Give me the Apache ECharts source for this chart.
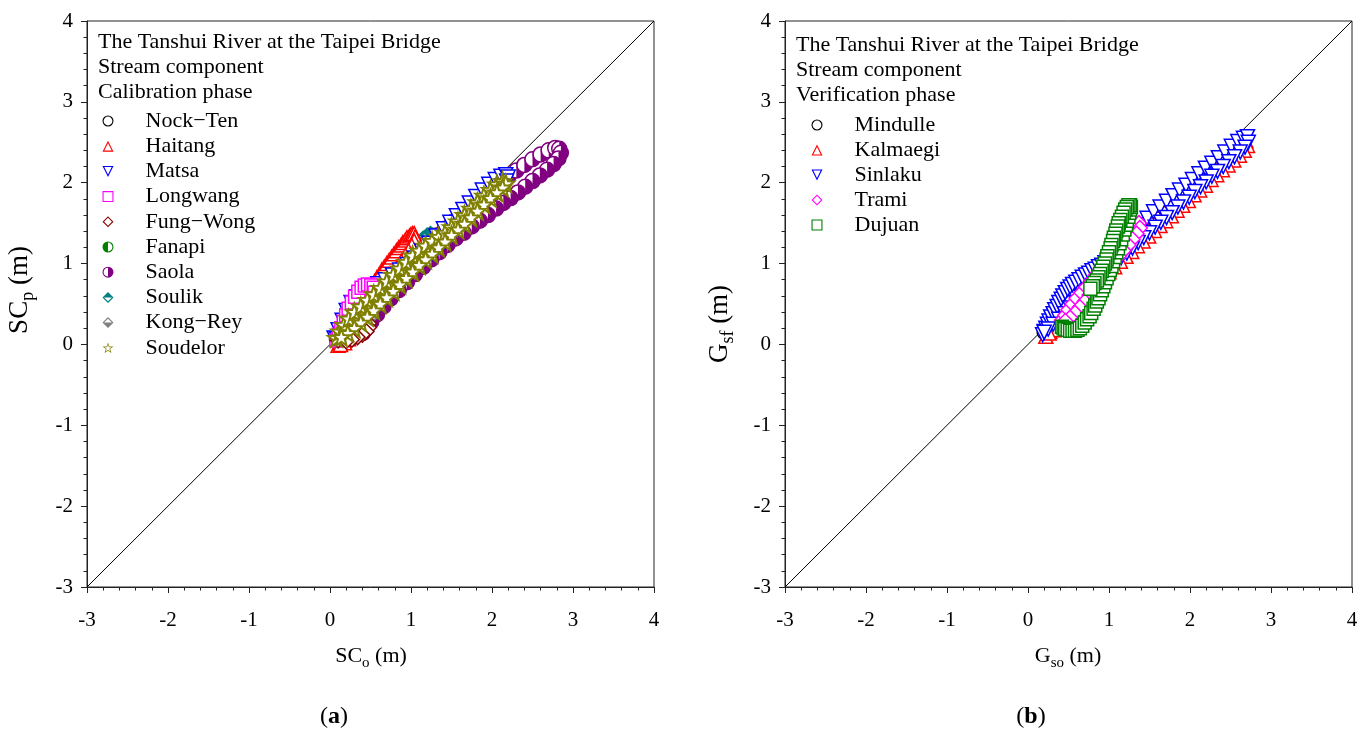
<!DOCTYPE html>
<html><head><meta charset="utf-8">
<script src="https://cdn.jsdelivr.net/npm/echarts@6/dist/echarts.min.js"></script>
<style>html,body{margin:0;padding:0;background:#fff}#c{width:1372px;height:731px}</style>
</head><body><div id="c"></div>
<script>
// ---------- tick labels / axis range ----------
const axisTicks = [-3, -2, -1, 0, 1, 2, 3, 4];

// ---------- (a) Calibration phase ----------
const nockTen = [[0.08,0.06],[0.12,0.05],[0.16,0.06],[0.2,0.06],[0.24,0.08],[0.28,0.1],[0.3,0.13],[0.27,0.12],[0.22,0.1],[0.17,0.08],[0.12,0.06]];
const haitang = [[0.1,-0.01],[0.12,0.02],[0.14,0.05],[0.16,0.09],[0.18,0.12],[0.2,0.16],[0.22,0.2],[0.25,0.25],[0.27,0.29],[0.3,0.34],[0.32,0.38],[0.35,0.43],[0.37,0.47],[0.4,0.52],[0.42,0.56],[0.45,0.61],[0.47,0.65],[0.5,0.7],[0.52,0.74],[0.55,0.78],[0.58,0.83],[0.61,0.87],[0.64,0.92],[0.67,0.96],[0.7,1.0],[0.73,1.04],[0.76,1.08],[0.79,1.12],[0.82,1.16],[0.85,1.2],[0.88,1.23],[0.9,1.26],[0.93,1.29],[0.95,1.32],[0.98,1.34],[1.0,1.36],[1.02,1.37],[1.04,1.37],[1.05,1.33],[1.04,1.28],[1.01,1.22],[0.97,1.16],[0.93,1.1],[0.88,1.03],[0.83,0.96],[0.78,0.89],[0.73,0.82],[0.68,0.75],[0.63,0.68],[0.58,0.6],[0.53,0.52],[0.48,0.44],[0.43,0.36],[0.38,0.28],[0.33,0.2],[0.28,0.13],[0.23,0.07],[0.18,0.02],[0.13,0.0]];
const matsa = [[0.05,0.08],[0.1,0.18],[0.15,0.3],[0.2,0.42],[0.26,0.52],[0.33,0.59],[0.41,0.65],[0.5,0.7],[0.59,0.75],[0.68,0.8],[0.77,0.86],[0.86,0.92],[0.95,0.99],[1.04,1.07],[1.13,1.16],[1.22,1.25],[1.31,1.34],[1.4,1.43],[1.48,1.51],[1.56,1.59],[1.64,1.67],[1.72,1.75],[1.8,1.83],[1.88,1.91],[1.96,1.98],[2.04,2.04],[2.11,2.08],[2.17,2.1],[2.2,2.07],[2.18,2.02],[2.12,1.96],[2.05,1.9],[1.98,1.83],[1.9,1.75],[1.82,1.67],[1.74,1.59],[1.66,1.51],[1.58,1.43],[1.5,1.35],[1.42,1.27],[1.34,1.2],[1.26,1.13],[1.18,1.06],[1.1,0.99],[1.02,0.91],[0.94,0.83],[0.86,0.75],[0.78,0.67],[0.7,0.59],[0.62,0.51],[0.54,0.43],[0.46,0.35],[0.38,0.28],[0.3,0.21],[0.22,0.15],[0.15,0.1],[0.08,0.07]];
const longwang = [[0.08,0.05],[0.11,0.12],[0.14,0.2],[0.17,0.28],[0.2,0.36],[0.23,0.44],[0.27,0.52],[0.31,0.59],[0.35,0.65],[0.39,0.7],[0.43,0.73],[0.47,0.74],[0.51,0.73],[0.54,0.7],[0.55,0.64],[0.53,0.57],[0.5,0.5],[0.46,0.43],[0.42,0.36],[0.37,0.29],[0.32,0.22],[0.26,0.16],[0.2,0.11],[0.14,0.07]];
const fungWong = [[0.1,0.05],[0.16,0.08],[0.22,0.12],[0.28,0.16],[0.34,0.2],[0.4,0.24],[0.45,0.27],[0.48,0.26],[0.48,0.21],[0.45,0.16],[0.4,0.12],[0.34,0.09],[0.27,0.06],[0.2,0.04]];
const fanapi = [[0.15,0.08],[0.2,0.1],[0.25,0.12],[0.3,0.14],[0.34,0.16],[0.37,0.18],[0.39,0.19],[0.36,0.15],[0.31,0.12]];
const saola = [[0.4,0.14],[0.42,0.2],[0.45,0.28],[0.49,0.37],[0.53,0.46],[0.58,0.56],[0.63,0.66],[0.68,0.75],[0.74,0.83],[0.81,0.9],[0.89,0.97],[0.97,1.04],[1.06,1.11],[1.15,1.19],[1.24,1.27],[1.33,1.35],[1.42,1.43],[1.51,1.51],[1.6,1.59],[1.7,1.67],[1.8,1.75],[1.9,1.83],[2.0,1.91],[2.1,1.99],[2.2,2.07],[2.3,2.15],[2.4,2.22],[2.5,2.29],[2.6,2.35],[2.7,2.4],[2.78,2.43],[2.83,2.42],[2.85,2.37],[2.82,2.3],[2.76,2.23],[2.68,2.16],[2.59,2.09],[2.5,2.02],[2.41,1.95],[2.32,1.88],[2.23,1.81],[2.14,1.75],[2.05,1.68],[1.95,1.6],[1.85,1.53],[1.75,1.46],[1.65,1.38],[1.55,1.31],[1.45,1.23],[1.35,1.14],[1.25,1.05],[1.15,0.96],[1.05,0.87],[0.95,0.77],[0.85,0.67],[0.75,0.57],[0.66,0.47],[0.58,0.37],[0.51,0.28],[0.45,0.2],[0.41,0.15]];
const soulik = [[0.22,0.2],[0.27,0.27],[0.33,0.35],[0.39,0.43],[0.46,0.52],[0.53,0.61],[0.6,0.7],[0.67,0.78],[0.74,0.86],[0.81,0.94],[0.88,1.02],[0.95,1.1],[1.02,1.17],[1.09,1.24],[1.15,1.3],[1.2,1.34],[1.24,1.36],[1.27,1.34],[1.27,1.29],[1.24,1.23],[1.2,1.17],[1.15,1.11],[1.1,1.05],[1.04,0.99],[0.98,0.93],[0.92,0.87],[0.86,0.8],[0.8,0.74],[0.74,0.67],[0.68,0.6],[0.62,0.54],[0.56,0.48],[0.5,0.42],[0.44,0.36],[0.38,0.3],[0.32,0.25],[0.27,0.22]];
const kongRey = [[0.3,0.24],[0.34,0.28],[0.38,0.33],[0.42,0.38],[0.46,0.42],[0.49,0.44],[0.51,0.42],[0.5,0.37],[0.47,0.32],[0.43,0.28],[0.39,0.25],[0.35,0.23]];
const soudelor = [[0.08,0.08],[0.12,0.16],[0.17,0.24],[0.23,0.32],[0.3,0.4],[0.38,0.47],[0.46,0.55],[0.54,0.62],[0.62,0.7],[0.7,0.78],[0.78,0.86],[0.86,0.94],[0.94,1.02],[1.02,1.1],[1.1,1.16],[1.18,1.22],[1.26,1.28],[1.34,1.33],[1.42,1.38],[1.5,1.45],[1.58,1.52],[1.66,1.6],[1.74,1.68],[1.82,1.76],[1.9,1.84],[1.98,1.91],[2.06,1.98],[2.13,2.02],[2.17,1.99],[2.13,1.94],[2.06,1.88],[1.98,1.81],[1.9,1.73],[1.82,1.65],[1.74,1.57],[1.66,1.49],[1.58,1.42],[1.5,1.35],[1.42,1.27],[1.34,1.2],[1.26,1.12],[1.18,1.05],[1.1,0.98],[1.02,0.9],[0.94,0.82],[0.86,0.74],[0.78,0.66],[0.7,0.58],[0.62,0.5],[0.54,0.42],[0.46,0.34],[0.38,0.27],[0.3,0.2],[0.22,0.14],[0.14,0.09]];

// ---------- (b) Verification phase ----------
const mindulle = [[0.2,0.15],[0.25,0.2],[0.3,0.25],[0.35,0.3],[0.4,0.33],[0.43,0.3],[0.4,0.25],[0.35,0.21],[0.28,0.17]];
const kalmaegi = [[0.22,0.1],[0.27,0.16],[0.33,0.22],[0.4,0.27],[0.47,0.33],[0.53,0.42],[0.59,0.52],[0.66,0.62],[0.73,0.72],[0.8,0.81],[0.88,0.9],[0.96,0.99],[1.04,1.08],[1.12,1.17],[1.2,1.26],[1.28,1.35],[1.36,1.43],[1.44,1.51],[1.52,1.58],[1.6,1.65],[1.68,1.72],[1.76,1.79],[1.84,1.86],[1.92,1.93],[2.0,1.99],[2.08,2.06],[2.16,2.13],[2.24,2.19],[2.32,2.26],[2.4,2.33],[2.48,2.4],[2.56,2.46],[2.63,2.5],[2.69,2.52],[2.71,2.46],[2.67,2.4],[2.61,2.34],[2.54,2.28],[2.47,2.22],[2.4,2.16],[2.33,2.1],[2.26,2.04],[2.19,1.97],[2.12,1.91],[2.05,1.85],[1.98,1.78],[1.91,1.72],[1.84,1.66],[1.77,1.59],[1.7,1.53],[1.63,1.47],[1.56,1.41],[1.49,1.34],[1.42,1.28],[1.35,1.22],[1.28,1.15],[1.21,1.09],[1.14,1.03],[1.07,0.96],[1.0,0.9],[0.93,0.83],[0.86,0.76],[0.79,0.69],[0.72,0.62],[0.65,0.55],[0.58,0.47],[0.51,0.39],[0.45,0.31],[0.39,0.24],[0.32,0.18],[0.26,0.14]];
const sinlaku = [[0.18,0.12],[0.2,0.16],[0.22,0.2],[0.24,0.25],[0.26,0.29],[0.28,0.34],[0.31,0.38],[0.33,0.43],[0.36,0.47],[0.38,0.52],[0.41,0.56],[0.43,0.6],[0.46,0.64],[0.49,0.68],[0.52,0.71],[0.55,0.74],[0.59,0.77],[0.63,0.8],[0.67,0.83],[0.71,0.86],[0.75,0.88],[0.79,0.91],[0.83,0.93],[0.87,0.96],[0.91,0.98],[0.95,1.01],[0.99,1.05],[1.07,1.13],[1.15,1.22],[1.23,1.31],[1.31,1.4],[1.39,1.48],[1.47,1.56],[1.55,1.64],[1.63,1.7],[1.71,1.77],[1.79,1.84],[1.87,1.91],[1.95,1.97],[2.03,2.04],[2.11,2.11],[2.19,2.18],[2.27,2.24],[2.35,2.31],[2.43,2.38],[2.51,2.45],[2.59,2.51],[2.66,2.55],[2.71,2.57],[2.72,2.5],[2.68,2.44],[2.62,2.38],[2.55,2.32],[2.48,2.26],[2.41,2.2],[2.34,2.14],[2.27,2.08],[2.2,2.01],[2.13,1.95],[2.06,1.89],[1.99,1.82],[1.92,1.76],[1.85,1.7],[1.78,1.63],[1.71,1.57],[1.64,1.51],[1.57,1.45],[1.5,1.38],[1.43,1.32],[1.36,1.26],[1.29,1.19],[1.22,1.13],[1.15,1.07],[1.08,1.0],[1.01,0.94],[0.94,0.87],[0.87,0.8],[0.8,0.73],[0.73,0.66],[0.66,0.59],[0.59,0.52],[0.52,0.45],[0.45,0.38],[0.38,0.31],[0.31,0.25],[0.25,0.19],[0.2,0.15]];
const trami = [[0.42,0.3],[0.46,0.36],[0.5,0.43],[0.55,0.5],[0.6,0.57],[0.66,0.64],[0.72,0.71],[0.78,0.78],[0.84,0.86],[0.9,0.94],[0.96,1.02],[1.02,1.1],[1.08,1.18],[1.14,1.26],[1.2,1.33],[1.26,1.4],[1.32,1.46],[1.37,1.5],[1.38,1.44],[1.34,1.37],[1.29,1.3],[1.24,1.23],[1.18,1.16],[1.12,1.09],[1.06,1.01],[1.0,0.93],[0.94,0.85],[0.88,0.77],[0.82,0.69],[0.76,0.61],[0.7,0.53],[0.64,0.46],[0.58,0.39],[0.52,0.33],[0.46,0.29]];
const dujuan = [[0.42,0.22],[0.44,0.2],[0.46,0.19],[0.49,0.18],[0.52,0.17],[0.55,0.17],[0.58,0.17],[0.61,0.18],[0.64,0.2],[0.67,0.23],[0.7,0.27],[0.73,0.31],[0.76,0.35],[0.78,0.39],[0.81,0.44],[0.83,0.48],[0.85,0.53],[0.87,0.57],[0.89,0.62],[0.91,0.67],[0.93,0.72],[0.95,0.77],[0.97,0.82],[0.99,0.87],[1.01,0.92],[1.03,0.97],[1.05,1.03],[1.07,1.08],[1.09,1.14],[1.11,1.19],[1.13,1.25],[1.15,1.3],[1.17,1.36],[1.19,1.42],[1.21,1.48],[1.22,1.53],[1.24,1.58],[1.25,1.63],[1.26,1.67],[1.27,1.7],[1.26,1.72],[1.24,1.72],[1.22,1.7],[1.2,1.67],[1.18,1.63],[1.16,1.58],[1.14,1.54],[1.12,1.5],[1.11,1.46],[1.09,1.41],[1.08,1.37],[1.06,1.32],[1.05,1.28],[1.03,1.23],[1.02,1.19],[1.0,1.14],[0.98,1.09],[0.97,1.05],[0.95,1.0],[0.93,0.96],[0.91,0.91],[0.89,0.87],[0.87,0.83],[0.85,0.79],[0.82,0.76],[0.8,0.72],[0.77,0.69]];

const diagonal = [[-3,-3],[4,4]];

const leftNames = ['Nock\u2212Ten','Haitang','Matsa','Longwang','Fung\u2212Wong','Fanapi','Saola','Soulik','Kong\u2212Rey','Soudelor'];
const rightNames = ['Mindulle','Kalmaegi','Sinlaku','Trami','Dujuan'];
const leftHeading = ['The Tanshui River at the Taipei Bridge','Stream component','Calibration phase'];
const rightHeading = ['The Tanshui River at the Taipei Bridge','Stream component','Verification phase'];

// ---------- styling ----------
const F = "'Liberation Serif','Times New Roman',serif";
const AX = '#222';
const STAR = 'M10,0L12.35,6.76L19.51,6.91L13.8,11.24L15.88,18.09L10,14L4.12,18.09L6.2,11.24L0.49,6.91L7.65,6.76Z';
const ICON = {
  circle: 'path://M10,0A10,10,0,1,1,10,20A10,10,0,1,1,10,0ZM10,2A8,8,0,1,0,10,18A8,8,0,1,0,10,2Z',
  triangle: 'path://M10,0L20,20L0,20ZM10,4.48L3.24,18L16.76,18Z',
  tdown: 'path://M0,0L20,0L10,20ZM3.24,2L10,15.52L16.76,2Z',
  rect: 'path://M0,0L20,0L20,20L0,20ZM2,2L2,18L18,18L18,2Z',
  diamond: 'path://M10,0L20,10L10,20L0,10ZM10,2.83L2.83,10L10,17.17L17.17,10Z',
  star: 'path://' + STAR + 'M10,3.5L8.47,7.89L3.82,7.99L7.53,10.81L6.18,15.26L10,12.6L13.82,15.26L12.47,10.81L16.18,7.99L11.53,7.89Z'
};
ICON.halfLeft = ICON.circle + 'M10,2A8,8,0,0,0,10,18Z';
ICON.halfRight = ICON.circle + 'M10,2A8,8,0,0,1,10,18Z';
ICON.halfTop = ICON.diamond + 'M10,2.83L17.17,10L2.83,10Z';
ICON.halfBottom = ICON.diamond + 'M2.83,10L17.17,10L10,17.17Z';

const leftSpec = [
  {data: nockTen, color:'#000000', kind:'circle'},
  {data: haitang, color:'#FF0000', kind:'triangle'},
  {data: matsa, color:'#0000FF', kind:'tdown'},
  {data: longwang, color:'#FF00FF', kind:'rect'},
  {data: fungWong, color:'#8B0000', kind:'diamond'},
  {data: fanapi, color:'#008000', kind:'halfLeft'},
  {data: saola, color:'#800080', kind:'halfRight'},
  {data: soulik, color:'#008080', kind:'halfTop'},
  {data: kongRey, color:'#808080', kind:'halfBottom'},
  {data: soudelor, color:'#808000', kind:'star'}
];
const rightSpec = [
  {data: mindulle, color:'#000000', kind:'circle'},
  {data: kalmaegi, color:'#FF0000', kind:'triangle'},
  {data: sinlaku, color:'#0000FF', kind:'tdown'},
  {data: trami, color:'#FF00FF', kind:'diamond'},
  {data: dujuan, color:'#008000', kind:'rect'}
];

const SYM = {circle:['circle',14], triangle:['triangle',14], tdown:['triangle',14], rect:['rect',13], diamond:['diamond',15], star:['path://'+STAR,17]};
const BW = 1.5;

function halfRender(kind, color) {
  return function (params, api) {
    const p = api.coord([api.value(0), api.value(1)]);
    const x = p[0], y = p[1];
    let children;
    if (kind === 'halfLeft' || kind === 'halfRight') {
      const R = 7.5;
      children = [
        {type:'circle', shape:{cx:x, cy:y, r:R}, style:{fill:'#fff', stroke:color, lineWidth:BW}},
        {type:'sector', shape:{cx:x, cy:y, r0:0, r:R,
          startAngle: kind==='halfLeft' ? Math.PI/2 : -Math.PI/2,
          endAngle: kind==='halfLeft' ? Math.PI*1.5 : Math.PI/2, clockwise:true}, style:{fill:color}}
      ];
    } else {
      const R = 8;
      const t=[x,y-R], r=[x+R,y], b=[x,y+R], l=[x-R,y];
      children = [
        {type:'polygon', shape:{points:[t,r,b,l]}, style:{fill:'#fff', stroke:color, lineWidth:BW}},
        {type:'polygon', shape:{points: kind==='halfTop' ? [t,r,l] : [l,r,b]}, style:{fill:color}}
      ];
    }
    return {type:'group', children: children};
  };
}

function buildSeries(spec, names, gi) {
  return spec.map(function (s, i) {
    if (s.kind.indexOf('half') === 0) {
      return {type:'custom', name:names[i], xAxisIndex:gi, yAxisIndex:gi, coordinateSystem:'cartesian2d',
        data:s.data, encode:{x:0, y:1}, renderItem: halfRender(s.kind, s.color), silent:true};
    }
    const sy = SYM[s.kind];
    return {type:'scatter', name:names[i], xAxisIndex:gi, yAxisIndex:gi, data:s.data,
      symbol:sy[0], symbolSize:sy[1], symbolRotate: s.kind==='tdown' ? 180 : 0, silent:true,
      itemStyle:{color:'#ffffff', borderColor:s.color, borderWidth: s.kind==='star' ? 2 : BW, opacity:1}};
  });
}

function axisOf(gi) {
  return {type:'value', gridIndex:gi, min:axisTicks[0], max:axisTicks[axisTicks.length-1], interval:1,
    axisLine:{show:true, onZero:false, lineStyle:{color:AX, width:1}},
    axisTick:{show:true, inside:false, length:6, lineStyle:{color:AX}},
    minorTick:{show:true, splitNumber:5, length:3.5, lineStyle:{color:AX}},
    splitLine:{show:false}, minorSplitLine:{show:false},
    axisLabel:{fontFamily:F, fontSize:21, color:'#000'}};
}

function legendOf(spec, names, left, top, gap) {
  return {orient:'vertical', left:left, top:top, padding:0, itemWidth:11, itemHeight:11, itemGap:gap,
    selectedMode:false,
    formatter: function (n) { return '{sp|}' + n; },
    textStyle:{fontFamily:F, fontSize:22, color:'#000', lineHeight:22, rich:{sp:{width:27}}},
    data: spec.map(function (s, i) { return {name:names[i], icon:ICON[s.kind], itemStyle:{color:s.color, borderWidth:0}}; })};
}

function headingOf(lines, x, y0, dy) {
  return lines.map(function (t, i) {
    return {type:'text', x:x, y:y0 + i*dy, silent:true,
      style:{text:t, fontFamily:F, fontSize:22, fill:'#000', align:'left', verticalAlign:'middle'}};
  });
}

function axisName(base, sub, x, y, rot, fs, sfs) {
  return {type:'text', x:x, y:y, rotation:rot, silent:true,
    style:{text: base + '{s|' + sub + '} (m)', fontFamily:F, fontSize:fs, lineHeight:fs+8, fill:'#000',
      align:'center', verticalAlign:'middle',
      rich:{s:{fontFamily:F, fontSize:sfs, fill:'#000', verticalAlign:'bottom'}}}};
}

function panelLabel(letter, x, y) {
  return {type:'text', x:x, y:y, silent:true,
    style:{text:'({b|' + letter + '})', fontFamily:F, fontSize:24, fill:'#000', align:'center', verticalAlign:'middle',
      rich:{b:{fontFamily:F, fontSize:24, fontWeight:'bold', fill:'#000'}}}};
}

const xAxisL = axisOf(0), yAxisL = axisOf(0), xAxisR = axisOf(1), yAxisR = axisOf(1);
xAxisL.axisLabel.margin = 23; xAxisR.axisLabel.margin = 23;
yAxisL.axisLabel.margin = 14; yAxisR.axisLabel.margin = 14;

const option = {
  animation:false,
  backgroundColor:'#ffffff',
  grid:[
    {left:87, top:21, width:567, height:566, show:true, borderColor:AX, borderWidth:1, backgroundColor:'transparent'},
    {left:785, top:21, width:567, height:566, show:true, borderColor:AX, borderWidth:1, backgroundColor:'transparent'}
  ],
  xAxis:[xAxisL, xAxisR],
  yAxis:[yAxisL, yAxisR],
  legend:[legendOf(leftSpec, leftNames, 102.5, 110, 3.2), legendOf(rightSpec, rightNames, 811.5, 114, 3)],
  series: [
    {type:'line', name:'diagL', xAxisIndex:0, yAxisIndex:0, data:diagonal, symbol:'none', z:1, silent:true, lineStyle:{color:'#000', width:1}},
    {type:'line', name:'diagR', xAxisIndex:1, yAxisIndex:1, data:diagonal, symbol:'none', z:1, silent:true, lineStyle:{color:'#000', width:1}}
  ].concat(buildSeries(leftSpec, leftNames, 0), buildSeries(rightSpec, rightNames, 1)),
  graphic: [].concat(
    headingOf(leftHeading, 98, 42, 25),
    headingOf(rightHeading, 796, 45, 25),
    [axisName('SC', 'o', 371, 656, 0, 22, 15), axisName('SC', 'p', 20, 290, Math.PI/2, 27, 18),
     axisName('G', 'so', 1068, 656, 0, 22, 15), axisName('G', 'sf', 720, 324, Math.PI/2, 27, 18),
     panelLabel('a', 334, 717), panelLabel('b', 1031, 717)]
  )
};

const chart = echarts.init(document.getElementById('c'), null, {renderer:'canvas'});
chart.setOption(option);
</script></body></html>
